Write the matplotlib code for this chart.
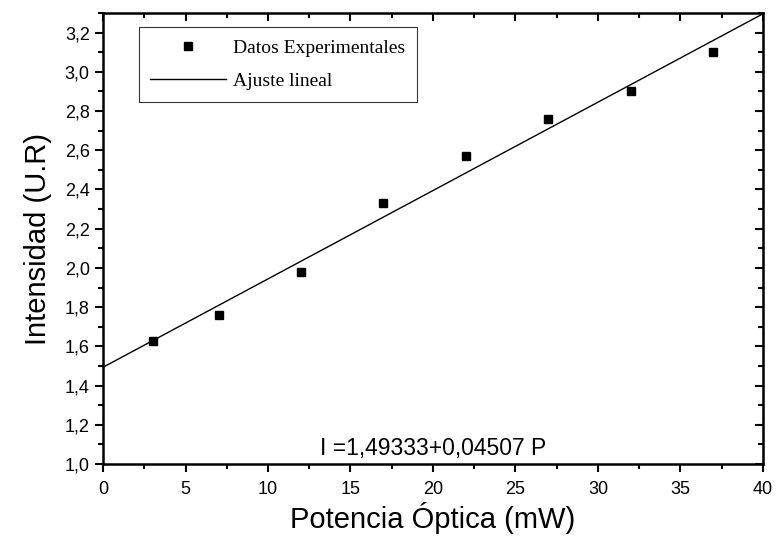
import numpy as np
import matplotlib
matplotlib.use("Agg")
import matplotlib.pyplot as plt
from matplotlib.ticker import MultipleLocator, FuncFormatter

# data
potencia = [3, 7, 12, 17, 22, 27, 32, 37]
intensidad = [1.625, 1.762, 1.981, 2.333, 2.572, 2.762, 2.903, 3.102]

intercepto = 1.49333
pendiente = 0.04507
fit_x = [0, 40]


def comma(v, pos):
    return f"{v:.1f}".replace(".", ",")


def main():
    plt.rcParams["font.family"] = ["Liberation Sans", "DejaVu Sans"]

    fig = plt.figure(figsize=(7.78, 5.43), dpi=100)
    ax = fig.add_axes([0.1324, 0.1455, 0.8483, 0.8305])

    ax.plot(potencia, intensidad, "s", color="black", ms=6.2,
            label="Datos Experimentales")
    fx = np.array(fit_x, dtype=float)
    ax.plot(fx, intercepto + pendiente * fx, "-", color="black", lw=1.0,
            label="Ajuste lineal")

    ax.set_xlim(0, 40)
    ax.set_ylim(1.0, 3.3)

    ax.xaxis.set_major_locator(MultipleLocator(5))
    ax.xaxis.set_minor_locator(MultipleLocator(2.5))
    ax.yaxis.set_major_locator(MultipleLocator(0.2))
    ax.yaxis.set_minor_locator(MultipleLocator(0.1))
    ax.yaxis.set_major_formatter(FuncFormatter(comma))

    for s in ax.spines.values():
        s.set_linewidth(1.8)

    ax.tick_params(which="both", direction="out", width=1.5,
                   labelsize=13, top=False, right=False)
    ax.tick_params(which="major", length=6)
    ax.tick_params(which="minor", length=3.5)
    ax.tick_params(axis="x", which="major", pad=6)

    # mirrored axes on top and right with inward ticks
    axt = ax.secondary_xaxis("top")
    axt.xaxis.set_major_locator(MultipleLocator(5))
    axt.xaxis.set_minor_locator(MultipleLocator(2.5))
    axt.tick_params(which="both", direction="in", width=1.5, labeltop=False)
    axt.tick_params(which="major", length=6)
    axt.tick_params(which="minor", length=3.5)
    axr = ax.secondary_yaxis("right")
    axr.yaxis.set_major_locator(MultipleLocator(0.2))
    axr.yaxis.set_minor_locator(MultipleLocator(0.1))
    axr.tick_params(which="both", direction="in", width=1.5, labelright=False)
    axr.tick_params(which="major", length=6)
    axr.tick_params(which="minor", length=3.5)

    ax.set_xlabel("Potencia Óptica (mW)", fontsize=21, labelpad=3)
    ax.set_ylabel("Intensidad (U.R)", fontsize=21, labelpad=9)

    ax.text(20, 1.046, "I =1,49333+0,04507 P", ha="center", va="baseline",
            fontsize=16.5)

    leg = ax.legend(loc="upper left", bbox_to_anchor=(0.054, 0.968),
                    prop={"family": "Liberation Serif", "size": 14},
                    frameon=True, fancybox=False, edgecolor="black",
                    handlelength=3.9, handletextpad=0.35, borderpad=0.6,
                    labelspacing=0.8, borderaxespad=0)
    leg.get_frame().set_linewidth(0.8)

    fig.savefig("out.png", dpi=100)
    plt.close(fig)


if __name__ == "__main__":
    main()
